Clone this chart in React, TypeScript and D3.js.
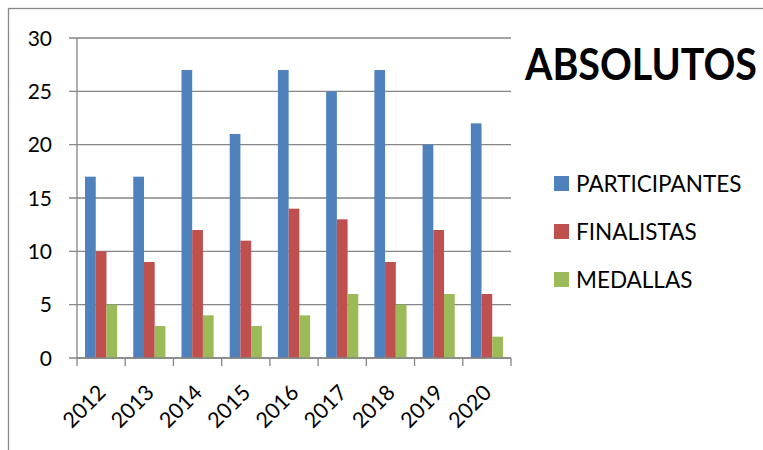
import React, { useEffect, useRef } from "react";
import * as d3 from "d3";

const years = ["2012", "2013", "2014", "2015", "2016", "2017", "2018", "2019", "2020"];
const participantes = [17, 17, 27, 21, 27, 25, 27, 20, 22];
const finalistas = [10, 9, 12, 11, 14, 13, 9, 12, 6];
const medallas = [5, 3, 4, 3, 4, 6, 5, 6, 2];
const seriesNames = ["PARTICIPANTES", "FINALISTAS", "MEDALLAS"];
const seriesColors = ["#4F81BD", "#C0504D", "#9BBB59"];
const yTicks = [0, 5, 10, 15, 20, 25, 30];
const title = "ABSOLUTOS";

const W = 763;
const H = 450;
const FONT = "Lato, 'Open Sans', sans-serif";

export default function App() {
  const ref = useRef<SVGSVGElement>(null);
  useEffect(() => {
    const svg = d3.select(ref.current);
    svg.selectAll("*").remove();
    const left = 77, right = 511, top = 38, bottom = 358;
    const x = d3.scaleBand<string>().domain(years).range([left, right]);
    const inner = d3
      .scaleBand<string>()
      .domain(seriesNames)
      .range([x.bandwidth() / 6, x.bandwidth() - x.bandwidth() / 6]);
    const y = d3.scaleLinear().domain([0, 30]).range([bottom, top]);
    const data = [participantes, finalistas, medallas];

    // frame
    svg.append("rect").attr("x", 8.5).attr("y", 8.5).attr("width", 900).attr("height", 600)
      .attr("fill", "white").attr("stroke", "#888").attr("stroke-width", 1.3);

    // gridlines
    svg.append("g").selectAll("line").data(yTicks).join("line")
      .attr("x1", left - 8).attr("x2", right)
      .attr("y1", (d) => y(d)).attr("y2", (d) => y(d))
      .attr("stroke", "#868686").attr("stroke-width", 1.3);

    // y labels
    svg.append("g").selectAll("text").data(yTicks).join("text")
      .attr("x", 52).attr("y", (d) => y(d) + 7.5)
      .attr("text-anchor", "end").attr("font-family", FONT).attr("font-size", 21)
      .attr("fill", "#000").text((d) => String(d));

    // bars
    data.forEach((vals, si) => {
      svg.append("g").selectAll("rect").data(vals).join("rect")
        .attr("x", (_, i) => (x(years[i]) as number) + (inner(seriesNames[si]) as number))
        .attr("width", inner.bandwidth())
        .attr("y", (d) => y(d))
        .attr("height", (d) => bottom - y(d))
        .attr("fill", seriesColors[si]);
    });

    // axes lines
    svg.append("line").attr("x1", left).attr("x2", left).attr("y1", top).attr("y2", bottom)
      .attr("stroke", "#868686").attr("stroke-width", 1.3);
    svg.append("line").attr("x1", left).attr("x2", right).attr("y1", bottom).attr("y2", bottom)
      .attr("stroke", "#868686").attr("stroke-width", 1.3);
    const xt = years.map((yr) => x(yr) as number).concat([right]);
    svg.append("g").selectAll("line").data(xt).join("line")
      .attr("x1", (d) => d).attr("x2", (d) => d).attr("y1", bottom).attr("y2", bottom + 8)
      .attr("stroke", "#868686").attr("stroke-width", 1.3);

    // x labels
    svg.append("g").selectAll("text").data(years).join("text")
      .attr("transform", (d) => `translate(${(x(d) as number) + x.bandwidth() / 2 + 6},${bottom + 36}) rotate(-45)`)
      .attr("text-anchor", "end").attr("font-family", FONT).attr("font-size", 21.5)
      .attr("fill", "#000").text((d) => d);

    // title (scaled horizontally to the reference width)
    const t = svg.append("text").attr("x", 0).attr("y", 0).attr("font-family", FONT)
      .attr("font-size", 43).attr("font-weight", "bold").attr("fill", "#000").text(title);
    const len = (t.node() as SVGTextElement).getComputedTextLength() || 276;
    const sx = Math.min(1, 232 / len);
    t.attr("transform", `translate(525,80) scale(${sx},1)`);

    // legend
    const lg = svg.append("g").selectAll("g").data(seriesNames).join("g")
      .attr("transform", (_, i) => `translate(554,${176 + i * 48})`);
    lg.append("rect").attr("width", 15).attr("height", 15).attr("fill", (_, i) => seriesColors[i]);
    lg.append("text").attr("x", 22).attr("y", 15.5).attr("font-family", FONT).attr("font-size", 22.5)
      .attr("fill", "#000").text((d) => d);
  }, []);
  return (
    <svg ref={ref} width={W} height={H} style={{ position: "absolute", left: 0, top: 0, background: "white" }} />
  );
}
